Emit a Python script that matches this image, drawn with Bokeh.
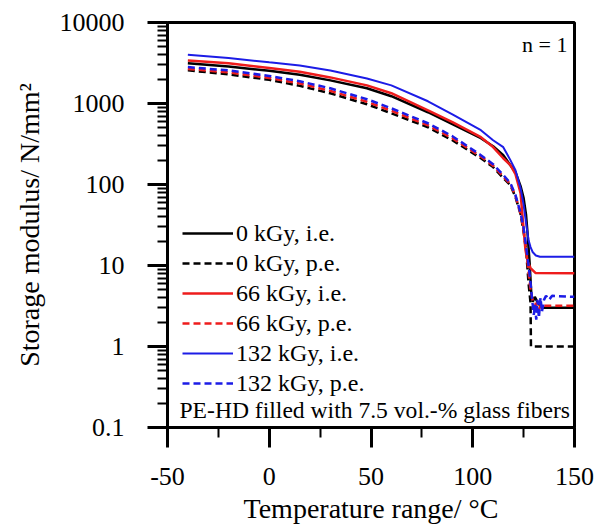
from bokeh.plotting import figure
from bokeh.models import (Range1d, FixedTicker, CustomJSTickFormatter, Legend, LegendItem, Label)
from bokeh.embed import file_html
from bokeh.resources import INLINE

# ---- data ----
x_ticks = [-50, 0, 50, 100, 150]
x_minor = [-25, 25, 75, 125]
y_ticks = [0.1, 1, 10, 100, 1000, 10000]
y_minor = [m * 10.0 ** k for k in (-1, 0, 1, 2, 3) for m in (2, 3, 4, 5, 6, 7, 8, 9)]

t_0_ie = [-40, -20, 0, 15, 30, 48, 60, 78, 90, 104, 110, 115, 118.5, 121, 123.5, 125, 126.2, 127, 128, 128.8, 129.5, 130.5, 132, 134, 150]
e_0_ie = [3130, 2870, 2530, 2260, 1930, 1540, 1230, 780, 555, 373, 297, 230, 173, 142, 95.5, 68, 42, 23.8, 10.2, 4.35, 3.56, 4.1, 3.46, 3.0, 3.0]

t_0_pe = [-40, -20, 0, 15, 30, 48, 60, 78, 90, 104, 110, 115, 118.5, 121, 123.5, 125, 126.3, 127.4, 128.4, 128.6, 150]
e_0_pe = [2565, 2290, 1960, 1650, 1336, 978, 757, 509, 352, 211, 164, 120, 98, 70, 43, 26, 14.7, 6.1, 3.46, 1.0, 1.0]

t_66_ie = [-40, -20, 0, 15, 30, 48, 60, 78, 90, 104, 110, 115, 118.5, 121, 123.5, 124.4, 125.9, 127, 128.4, 130.8, 150]
e_66_ie = [3400, 3130, 2750, 2460, 2100, 1675, 1340, 825, 590, 384, 290, 211, 173, 134, 78, 42, 15.6, 11.1, 9.3, 8.1, 8.0]

t_66_pe = [-40, -20, 0, 15, 30, 48, 60, 78, 90, 104, 110, 115, 118.5, 121, 123.5, 125, 126.3, 127.4, 128.4, 129.4, 130.3, 131, 132, 133.5, 135, 150]
e_66_pe = [2675, 2420, 2070, 1770, 1430, 1050, 813, 539, 373, 221, 171, 125, 101, 72, 43.8, 27.4, 15.6, 8.3, 5.0, 3.77, 2.84, 3.46, 2.68, 3.27, 3.18, 3.18]

t_132_ie = [-40, -20, 0, 15, 30, 48, 60, 78, 90, 104, 110, 115, 118.5, 121, 123.5, 125, 126, 127.4, 128.4, 129.4, 131, 133, 150]
e_132_ie = [4000, 3650, 3220, 2950, 2560, 2040, 1675, 1065, 736, 468, 352, 289, 200, 150, 90, 56, 36.5, 20.7, 16.9, 14.7, 13.3, 12.8, 12.8]

t_132_pe = [-40, -20, 0, 15, 30, 48, 60, 78, 90, 104, 110, 115, 118.5, 121, 123.5, 125, 126.3, 127.4, 128.4, 129.2, 130, 130.6, 131.2, 131.8, 132.5, 133.3, 134, 135, 136, 137.5, 139, 150]
e_132_pe = [2815, 2560, 2190, 1880, 1540, 1130, 873, 570, 395, 230, 178, 131, 104, 74, 44.5, 29, 16.5, 10.2, 6.1, 3.77, 2.46, 3.27, 2.14, 3.77, 2.26, 4.0, 2.68, 3.77, 4.22, 3.77, 4.22, 4.1]

labels = ["0 kGy, i.e.", "0 kGy, p.e.", "66 kGy, i.e.", "66 kGy, p.e.", "132 kGy, i.e.", "132 kGy, p.e."]
x_title = "Temperature range/ °C"
y_title = "Storage modulus/ N/mm²"
note = "PE-HD filled with 7.5 vol.-% glass fibers"
n_text = "n = 1"

FONT = "Liberation Serif"
BLACK = "#000000"
RED = "#ee1c1c"
BLUE = "#1c1ce6"

p = figure(width=599, height=526, y_axis_type="log",
           x_range=Range1d(-50, 150), y_range=Range1d(0.1, 10000),
           output_backend="svg", toolbar_location=None,
           min_border_left=167, min_border_right=25, min_border_top=22, min_border_bottom=98)
p.grid.visible = False
p.outline_line_color = "black"
p.outline_line_width = 3
p.background_fill_color = "white"
p.border_fill_color = "white"

for ax in (p.xaxis[0], p.yaxis[0]):
    ax.axis_line_width = 3
    ax.axis_line_color = "black"
    ax.major_tick_in = 0
    ax.major_tick_out = 20
    ax.minor_tick_in = 0
    ax.minor_tick_out = 10
    ax.major_tick_line_width = 3
    ax.minor_tick_line_width = 2
    ax.major_label_text_font = FONT
    ax.major_label_text_font_size = "26px"
    ax.major_label_text_color = "black"
    ax.axis_label_text_font = FONT
    ax.axis_label_text_font_style = "normal"
    ax.axis_label_text_font_size = "28px"
    ax.axis_label_text_color = "black"

p.xaxis.ticker = FixedTicker(ticks=x_ticks, minor_ticks=x_minor)
p.yaxis.ticker = FixedTicker(ticks=y_ticks, minor_ticks=y_minor)
p.xaxis.formatter = CustomJSTickFormatter(code="return String(tick);")
p.yaxis.formatter = CustomJSTickFormatter(code="return String(tick);")
p.xaxis.major_label_standoff = 20
p.yaxis.major_label_standoff = 23
p.xaxis.axis_label = x_title
p.xaxis.axis_label_standoff = 5
p.yaxis.axis_label = y_title
p.yaxis.axis_label_standoff = 12

DASH = "7 4"
r1 = p.line(t_0_ie, e_0_ie, line_color=BLACK, line_width=2.5)
r2 = p.line(t_0_pe, e_0_pe, line_color=BLACK, line_width=2.5, line_dash=DASH)
r3 = p.line(t_66_ie, e_66_ie, line_color=RED, line_width=2.5)
r4 = p.line(t_66_pe, e_66_pe, line_color=RED, line_width=2.5, line_dash=DASH)
r5 = p.line(t_132_ie, e_132_ie, line_color=BLUE, line_width=2)
r6 = p.line(t_132_pe, e_132_pe, line_color=BLUE, line_width=2.5, line_dash=DASH)

legend = Legend(items=[LegendItem(label=l, renderers=[r]) for l, r in zip(labels, [r1, r2, r3, r4, r5, r6])],
                location=(15, 30), glyph_width=51, glyph_height=28, label_height=28,
                label_standoff=3, spacing=2, padding=0, margin=0,
                label_text_font=FONT, label_text_font_size="24px", label_text_color="black",
                border_line_color=None, background_fill_alpha=0)
p.add_layout(legend, "center")

p.add_layout(Label(x=12, y=18, x_units="screen", y_units="screen",
                   text=note, text_font=FONT, text_font_size="23.6px", text_color="black",
                   text_baseline="middle", text_align="left"))
p.add_layout(Label(x=400, y=383, x_units="screen", y_units="screen",
                   text=n_text, text_font=FONT, text_font_size="22px", text_color="black",
                   text_baseline="middle", text_align="right"))

open("out.html", "w").write(file_html(p, INLINE))
